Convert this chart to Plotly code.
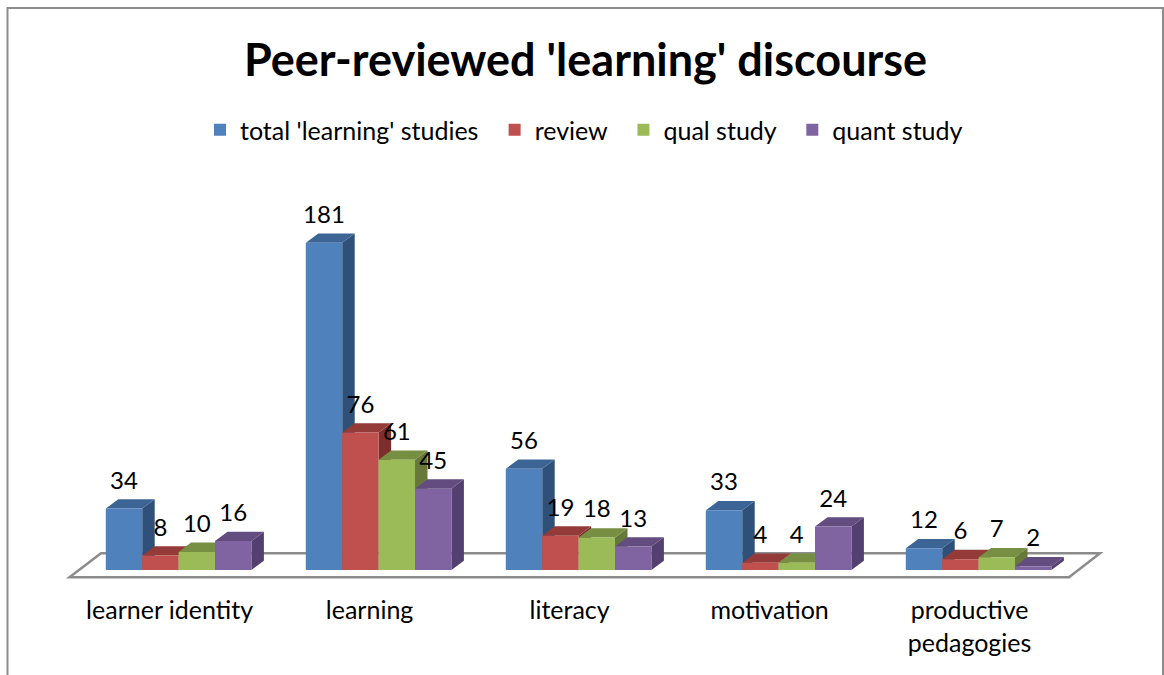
import plotly.graph_objects as go

categories = ["learner identity", "learning", "literacy", "motivation", "productive<br>pedagogies"]
total = [34, 181, 56, 33, 12]
review = [8, 76, 19, 4, 6]
qual = [10, 61, 18, 4, 7]
quant = [16, 45, 13, 24, 2]
series_names = ["total 'learning' studies", "review", "qual study", "quant study"]
series_values = [total, review, qual, quant]
front_colors = ["#4F81BD", "#C0504D", "#9BBB59", "#8064A2"]
top_colors = ["#3C6595", "#943B39", "#778F42", "#624C80"]
side_colors = ["#2F5078", "#7E2F2D", "#66793B", "#534070"]

W, H = 1164, 675
FONT = "Lato"
X0_PX, PX_PER_CAT = 178.6, 200.0
Y0_PX, PX_PER_UNIT = 570.0, 1.808
PLOT_BOTTOM = 590

BAR_W = 36.4 / PX_PER_CAT
DX = 12.5 / PX_PER_CAT
DY = 9.3 / PX_PER_UNIT
LABEL_LIFT = 26 / PX_PER_UNIT
TICK_SHIFT = -9 / PX_PER_CAT
LEGEND_PAD = "\u00a0" * 3

xr = [-X0_PX / PX_PER_CAT, (W - X0_PX) / PX_PER_CAT]
yr = [(Y0_PX - PLOT_BOTTOM) / PX_PER_UNIT, Y0_PX / PX_PER_UNIT]


def px_x(p):
    return (p - X0_PX) / PX_PER_CAT


def px_y(p):
    return (Y0_PX - p) / PX_PER_UNIT


fig = go.Figure()
idx = list(range(len(categories)))

for k, (name, vals) in enumerate(zip(series_names, series_values)):
    centers = [i + (k - 1.5) * BAR_W for i in idx]
    ax_faces = 2 * k + 1
    ax_front = 2 * k + 2
    top_x, top_y, side_x, side_y = [], [], [], []
    for c, v in zip(centers, vals):
        l, r = c - BAR_W / 2, c + BAR_W / 2
        top_x += [l, r, r + DX, l + DX, l, None]
        top_y += [v, v, v + DY, v + DY, v, None]
        side_x += [r, r + DX, r + DX, r, r, None]
        side_y += [0, DY, v + DY, v, 0, None]
    suffix_f = "" if ax_faces == 1 else str(ax_faces)
    fig.add_trace(go.Scatter(x=side_x, y=side_y, mode="lines", fill="toself", fillcolor=side_colors[k],
                             line=dict(width=0, color=side_colors[k]), showlegend=False, hoverinfo="skip",
                             xaxis="x" + suffix_f, yaxis="y" + suffix_f))
    fig.add_trace(go.Scatter(x=top_x, y=top_y, mode="lines", fill="toself", fillcolor=top_colors[k],
                             line=dict(width=0, color=top_colors[k]), showlegend=False, hoverinfo="skip",
                             xaxis="x" + suffix_f, yaxis="y" + suffix_f))
    fig.add_trace(go.Bar(x=centers, y=vals, width=BAR_W, name=name + (LEGEND_PAD if k < 3 else ""),
                         marker=dict(color=front_colors[k], line=dict(width=0)),
                         xaxis=f"x{ax_front}", yaxis=f"y{ax_front}"))

# value labels, above everything
lx, ly, lt = [], [], []
for k, vals in enumerate(series_values):
    for i, v in zip(idx, vals):
        lx.append(i + (k - 1.5) * BAR_W)
        ly.append(v + LABEL_LIFT)
        lt.append(str(v))
fig.add_trace(go.Scatter(x=lx, y=ly, text=lt, mode="text", textposition="middle center",
                         textfont=dict(family=FONT, size=24, color="#000000"), showlegend=False, hoverinfo="skip",
                         xaxis="x8", yaxis="y8"))

layout = dict(
    width=W, height=H,
    margin=dict(l=0, r=0, t=0, b=H - PLOT_BOTTOM, autoexpand=False),
    paper_bgcolor="white", plot_bgcolor="rgba(0,0,0,0)",
    barmode="overlay", hovermode=False,
    font=dict(family=FONT, color="#000000"),
    title=dict(text="<b>Peer-reviewed 'learning' discourse</b>", x=585.5 / W, xanchor="center", y=1 - 60 / H, yanchor="middle",
               font=dict(family=FONT, size=45, color="#000000")),
    legend=dict(orientation="h", x=208 / W, xanchor="left", y=1 - 130 / PLOT_BOTTOM, yanchor="middle",
                font=dict(family=FONT, size=25, color="#000000"), bgcolor="rgba(0,0,0,0)",
                itemwidth=30, indentation=-8, traceorder="normal"),
    xaxis=dict(range=xr, tickmode="array", tickvals=[i + TICK_SHIFT for i in idx], ticktext=categories,
               showgrid=False, zeroline=False, showline=False, ticks="", tickangle=0,
               tickfont=dict(family=FONT, size=25, color="#000000"), ticklabelstandoff=3),
    yaxis=dict(range=yr, visible=False),
    shapes=[
        dict(type="path", xref="x", yref="y", layer="below",
             path=f"M{px_x(69.5)},{px_y(577.3)} L{px_x(1069)},{px_y(577.3)} L{px_x(1100)},{px_y(553.3)} L{px_x(101)},{px_y(553.3)} Z",
             line=dict(color="#8C8C8C", width=2.5)),
        dict(type="rect", xref="paper", yref="paper", layer="below",
             x0=7.5 / W, x1=1163 / W, y0=-0.3, y1=1 - 8 / PLOT_BOTTOM,
             line=dict(color="#8C8C8C", width=2)),
    ],
)
for n in range(2, 9):
    layout[f"xaxis{n}"] = dict(range=xr, overlaying="x", visible=False, anchor=f"y{n}")
    layout[f"yaxis{n}"] = dict(range=yr, overlaying="y", visible=False, anchor=f"x{n}")
fig.update_layout(**layout)

fig.write_html("out.html", config={"displayModeBar": False}, post_script="document.body.style.margin='0';")
